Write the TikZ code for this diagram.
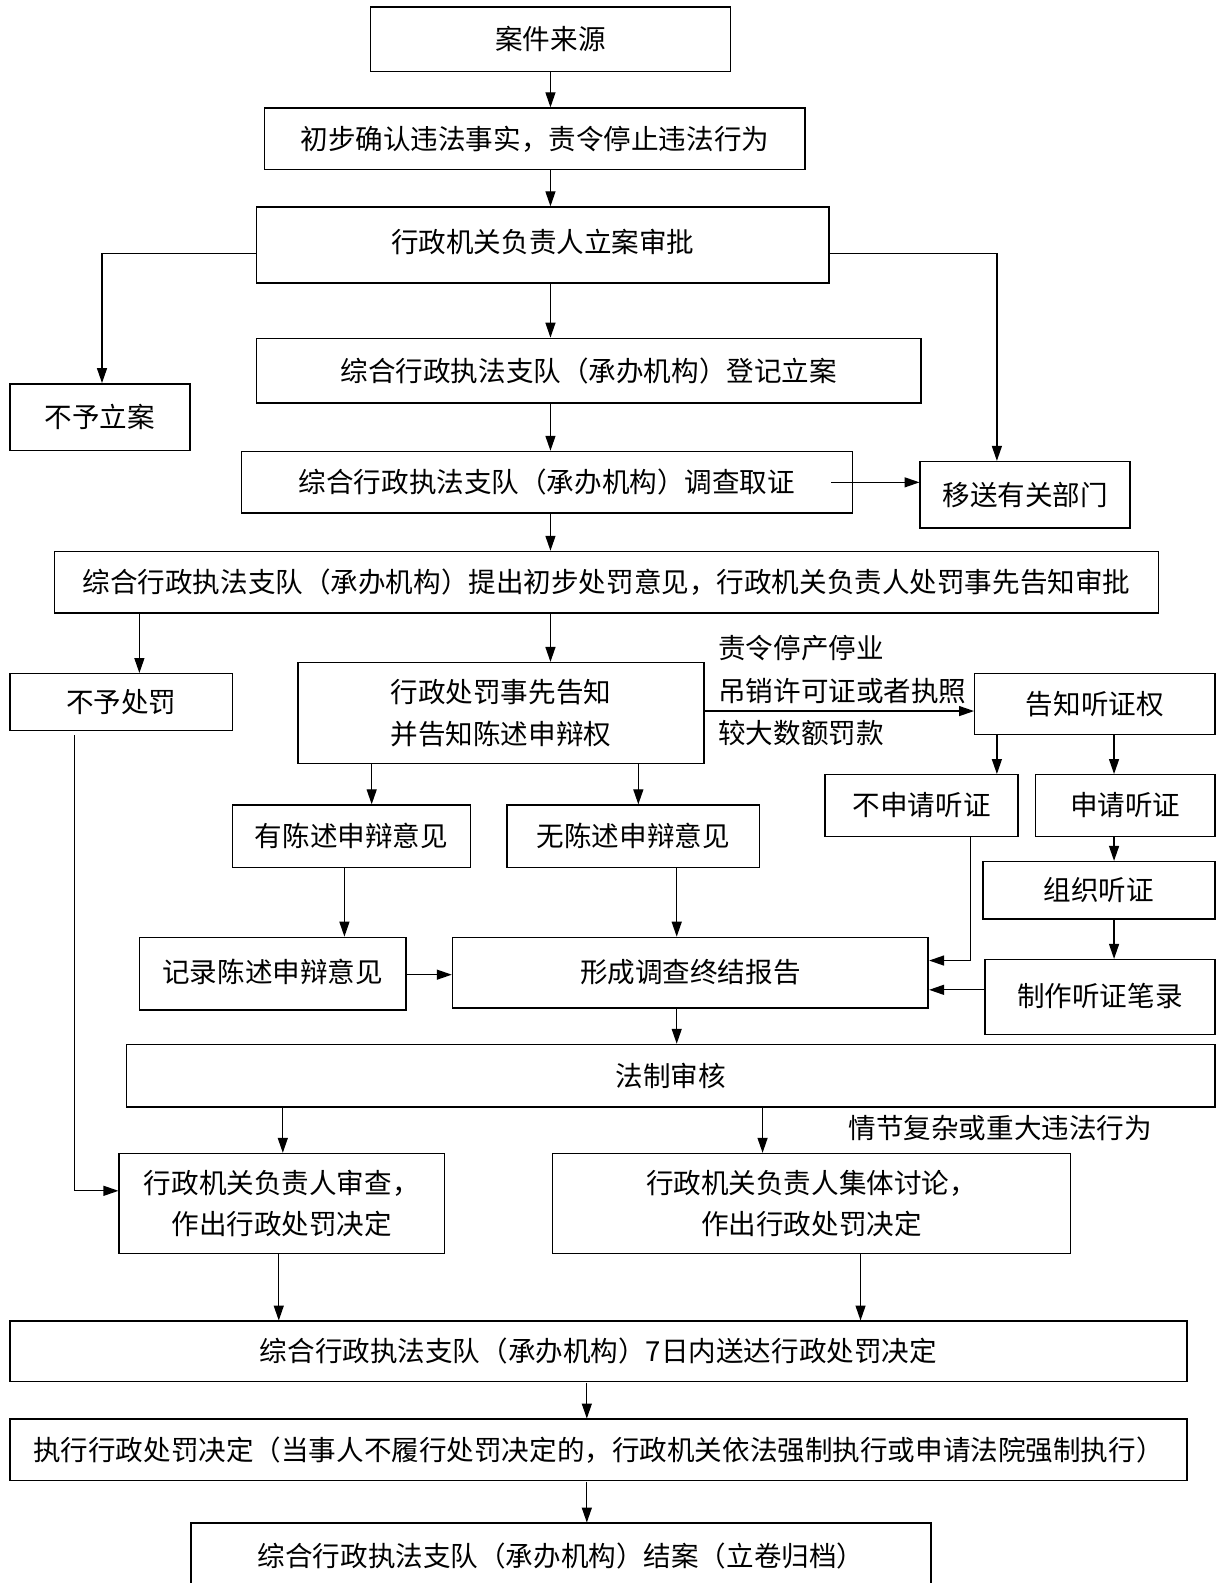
\documentclass[tikz,border=0pt]{standalone}
\usepackage{fontspec}
\setmainfont{Noto Sans CJK SC}
\usetikzlibrary{arrows.meta}
\begin{document}
\begin{tikzpicture}[x=1pt,y=-1pt,scale=1.01,every node/.append style={transform shape},
  box/.style={draw,line width=1.5pt,inner sep=0pt,align=center,font=\fontsize{27.3}{41}\selectfont},
  arr/.style={line width=1.3pt,-{Triangle[length=15pt,width=10pt]}},
  lbl/.style={anchor=west,inner sep=0pt,font=\fontsize{27.3}{41}\selectfont}]
\useasboundingbox[fill=white] (0,0) rectangle (1211.9,1567.3);
% boxes
\node[box,minimum width=356,minimum height=64] (n1) at (545,39) {案件来源};
\node[box,minimum width=535,minimum height=61] (n2) at (529.5,137.5) {初步确认违法事实，责令停止违法行为};
\node[box,minimum width=567,minimum height=75] (n3) at (537.5,242.5) {\raisebox{8pt}{行政机关负责人立案审批}};
\node[box,minimum width=658,minimum height=64] (n4) at (583,367) {综合行政执法支队（承办机构）登记立案};
\node[box,minimum width=178,minimum height=66] (n5) at (99,413) {不予立案};
\node[box,minimum width=605,minimum height=61] (n6) at (541.5,477.5) {综合行政执法支队（承办机构）调查取证};
\node[box,minimum width=208,minimum height=66] (n7) at (1015,490) {移送有关部门};
\node[box,minimum width=1093,minimum height=61] (n8) at (600.5,576.5) {综合行政执法支队（承办机构）提出初步处罚意见，行政机关负责人处罚事先告知审批};
\node[box,minimum width=220,minimum height=56] (n9) at (120,695) {不予处罚};
\node[box,minimum width=402,minimum height=100] (n10) at (496,706) {行政处罚事先告知\\并告知陈述申辩权};
\node[box,minimum width=238,minimum height=60] (n11) at (1084,697) {告知听证权};
\node[box,minimum width=191,minimum height=61] (n12) at (912.5,797.5) {不申请听证};
\node[box,minimum width=178,minimum height=61] (n13) at (1114,797.5) {申请听证};
\node[box,minimum width=230,minimum height=57] (n14) at (1088,881.5) {组织听证};
\node[box,minimum width=228,minimum height=74] (n15) at (1089,987) {\raisebox{4pt}{制作听证笔录}};
\node[box,minimum width=236,minimum height=62] (n16) at (348,828) {有陈述申辩意见};
\node[box,minimum width=250,minimum height=62] (n17) at (627,828) {无陈述申辩意见};
\node[box,minimum width=264,minimum height=72] (n18) at (270,964) {\raisebox{5pt}{记录陈述申辩意见}};
\node[box,minimum width=471,minimum height=70] (n19) at (683.5,963) {\raisebox{4pt}{形成调查终结报告}};
\node[box,minimum width=1078,minimum height=62] (n20) at (664,1065) {法制审核};
\node[box,minimum width=322,minimum height=99] (n21) at (279,1191.5) {行政机关负责人审查，\\作出行政处罚决定};
\node[box,minimum width=513,minimum height=99] (n22) at (803.5,1191.5) {行政机关负责人集体讨论，\\作出行政处罚决定};
\node[box,minimum width=1165,minimum height=60] (n23) at (592.5,1338) {综合行政执法支队（承办机构）7日内送达行政处罚决定};
\node[box,minimum width=1165,minimum height=61] (n24) at (592.5,1435.5) {执行行政处罚决定（当事人不履行处罚决定的，行政机关依法强制执行或申请法院强制执行）};
\node[box,minimum width=733,minimum height=78] (n25) at (555.5,1547) {\raisebox{16pt}{综合行政执法支队（承办机构）结案（立卷归档）}};
% labels
\node[lbl] (l1) at (711,642) {责令停产停业};
\node[lbl] (l2) at (711,684) {吊销许可证或者执照};
\node[lbl] (l3) at (711,726) {较大数额罚款};
\node[lbl] (l4) at (840,1117) {情节复杂或重大违法行为};
% connectors
\draw[arr] (545,0 |- n1.south) -- (545,0 |- n2.north);
\draw[arr] (545,0 |- n2.south) -- (545,0 |- n3.north);
\draw[arr] (n3.west |- 0,251) -| (101,0 |- n5.north);
\draw[arr] (n3.east |- 0,251) -| (987,0 |- n7.north);
\draw[arr] (545,0 |- n3.south) -- (545,0 |- n4.north);
\draw[arr] (545,0 |- n4.south) -- (545,0 |- n6.north);
\draw[arr] ([xshift=-22pt]n6.east) -- (n7.west |- n6.east);
\draw[arr] (545,0 |- n6.south) -- (545,0 |- n8.north);
\draw[arr] (138,0 |- n8.south) -- (138,0 |- n9.north);
\draw[arr] (545,0 |- n8.south) -- (545,0 |- n10.north);
\draw[arr] (n10.east |- 0,704) -- (n11.west |- 0,704);
\draw[arr] (987,0 |- n11.south) -- (987,0 |- n12.north);
\draw[arr] (1103,0 |- n11.south) -- (1103,0 |- n13.north);
\draw[arr] (1103,0 |- n13.south) -- (1103,0 |- n14.north);
\draw[arr] (1103,0 |- n14.south) -- (1103,0 |- n15.north);
\draw[arr] (368,0 |- n10.south) -- (368,0 |- n16.north);
\draw[arr] (632,0 |- n10.south) -- (632,0 |- n17.north);
\draw[arr] (341,0 |- n16.south) -- (341,0 |- n18.north);
\draw[arr] (670,0 |- n17.south) -- (670,0 |- n19.north);
\draw[arr] (n18.east |- 0,965) -- (n19.west |- 0,965);
\draw[arr] (961,0 |- n12.south) |- (n19.east |- 0,951);
\draw[arr] (n15.west |- 0,980) -- (n19.east |- 0,980);
\draw[arr] (670,0 |- n19.south) -- (670,0 |- n20.north);
\draw[arr] (280,0 |- n20.south) -- (280,0 |- n21.north);
\draw[arr] (755,0 |- n20.south) -- (755,0 |- n22.north);
\draw[arr] (74,728) |- (n21.west |- 0,1179);
\draw[arr] (276,0 |- n21.south) -- (276,0 |- n23.north);
\draw[arr] (852,0 |- n22.south) -- (852,0 |- n23.north);
\draw[arr] (581,0 |- n23.south) -- (581,0 |- n24.north);
\draw[arr] (581,0 |- n24.south) -- (581,0 |- n25.north);
\end{tikzpicture}
\end{document}
